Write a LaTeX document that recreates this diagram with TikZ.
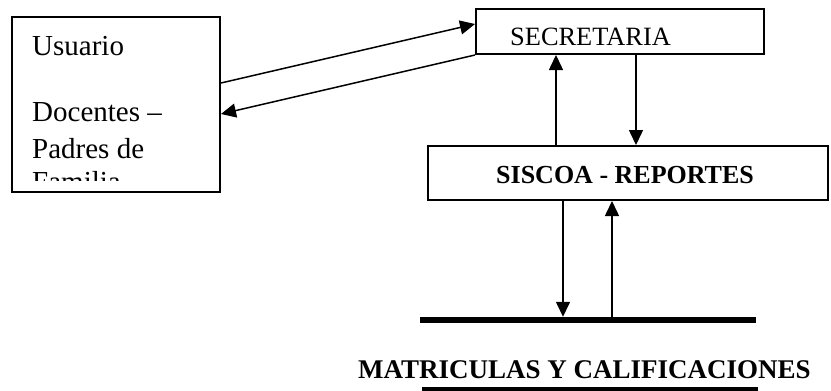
\documentclass[tikz,border=0pt]{standalone}
\usepackage{fontspec}
\setmainfont{Liberation Serif}
\usetikzlibrary{arrows.meta}
\tikzset{
  box/.style={draw, line width=2pt, rectangle, inner sep=0pt},
  lbl/.style={inner sep=0pt, anchor=base west},
  flow/.style={line width=1.5pt, -{Triangle[length=15pt,width=14pt]}},
}
\begin{document}
\begin{tikzpicture}[x=1pt,y=-1pt]
\useasboundingbox (0,0) rectangle (831,391);

% boxes
\node[box, minimum width=208pt, minimum height=175pt] (usr) at (116,104.5) {};
\node[box, minimum width=288pt, minimum height=45pt] (sec) at (620,31.5) {};
\node[box, minimum width=400pt, minimum height=54pt] (sis) at (628,173) {};
% data store bar and its underline
\node[fill=black, inner sep=0pt, minimum width=336pt, minimum height=6pt] (store) at (588,320) {};
\node[fill=black, inner sep=0pt, minimum width=336pt, minimum height=3.5pt] (rule) at (590,389) {};

% texts
\node[lbl, font=\fontsize{29}{33}\selectfont] (t1) at (32,55) {Usuario};
\node[lbl, font=\fontsize{29}{33}\selectfont] (t2) at (32,121) {Docentes –};
\node[lbl, font=\fontsize{29}{33}\selectfont] (t3) at (32,158) {Padres de};
\begin{scope}
  \clip (14,19) rectangle (218,180);
  \node[lbl, font=\fontsize{29}{33}\selectfont] (t4) at (32,191) {Familia};
\end{scope}
\node[lbl, font=\fontsize{26.4}{30}\selectfont] (t5) at (510,45) {SECRETARIA};
\node[lbl, font=\fontsize{26}{30}\selectfont\bfseries] (t6) at (496,183) {SISCOA - REPORTES};
\node[lbl, font=\fontsize{27}{31}\selectfont\bfseries] (t7) at (358,378) {MATRICULAS Y CALIFICACIONES};

% connectors
\draw[flow] ([yshift=-67pt]usr.north east) -- ([yshift=-16pt]sec.north west);
\draw[flow] (sec.south west) -- ([yshift=-98pt]usr.north east);
\draw[flow] ([xshift=-72pt]sis.north) -- ([xshift=-64pt]sec.south);
\draw[flow] ([xshift=16pt]sec.south) -- ([xshift=8pt]sis.north);
\draw[flow] ([xshift=-65pt]sis.south) -- ([xshift=-25pt]store.north);
\draw[flow] ([xshift=24pt]store.north) -- ([xshift=-16pt]sis.south);
\end{tikzpicture}
\end{document}
